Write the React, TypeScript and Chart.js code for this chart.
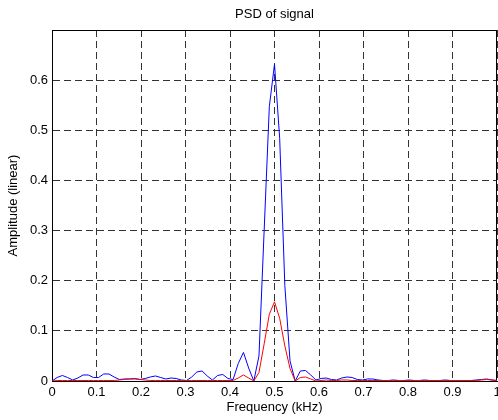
import React, { useEffect, useRef } from 'react';
import { Chart, registerables } from 'chart.js';

Chart.register(...registerables);

// Frequency bins: 87 bins from 0 to 1 kHz (bin width 1/86 kHz)
const binCount = 87;
const binWidthKHz = 1 / 86;

const blueValues = [
  0, 0.007, 0.011, 0.007, 0.002, 0.006, 0.012, 0.012, 0.007, 0.007,
  0.014, 0.014, 0.008, 0.003, 0.004, 0.004, 0.005, 0.003, 0.005, 0.008,
  0.010, 0.007, 0.004, 0.006, 0.005, 0.002, 0.001, 0.008, 0.018, 0.020,
  0.010, 0.002, 0.011, 0.013, 0.005, 0.003, 0.035, 0.057, 0.026, 0.0,
  0.05, 0.30, 0.547, 0.632, 0.484, 0.19, 0.04, 0.0, 0.02, 0.021,
  0.012, 0.002, 0.005, 0.006, 0.003, 0.002, 0.006, 0.008, 0.007, 0.003,
  0.002, 0.004, 0.004, 0.002, 0.001, 0.001, 0.002, 0.001, 0.001, 0.002,
  0.001, 0.001, 0.002, 0.001, 0.001, 0.001, 0.002, 0.001, 0.001, 0.001,
  0.001, 0.001, 0.002, 0.003, 0.004, 0.002, 0.001,
];

const redValues = [
  0, 0.001, 0.001, 0.001, 0.001, 0.001, 0.001, 0.001, 0.001, 0.001,
  0.001, 0.001, 0.001, 0.002, 0.003, 0.004, 0.004, 0.003, 0.002, 0.001,
  0.001, 0.001, 0.001, 0.001, 0.001, 0.001, 0.001, 0.001, 0.001, 0.001,
  0.001, 0.001, 0.001, 0.001, 0.001, 0.001, 0.006, 0.012, 0.006, 0.0,
  0.017, 0.074, 0.133, 0.158, 0.125, 0.07, 0.025, 0.0, 0.007, 0.008,
  0.004, 0.0, 0.001, 0.002, 0.001, 0.001, 0.002, 0.002, 0.001, 0.001,
  0.001, 0.001, 0.001, 0.001, 0.001, 0.001, 0.001, 0.001, 0.001, 0.001,
  0.001, 0.001, 0.001, 0.001, 0.001, 0.001, 0.001, 0.001, 0.001, 0.001,
  0.001, 0.001, 0.001, 0.002, 0.003, 0.002, 0.001,
];

const xMin = 0;
const xMax = 1;
const xStep = 0.1;
const yMin = 0;
const yMax = 0.7;
const yStep = 0.1;

const titleText = 'PSD of signal';
const xTitle = 'Frequency (kHz)';
const yTitle = 'Amplitude (linear)';

const FONT = "'Liberation Sans', Arial, Helvetica, sans-serif";

const fmt = (v: any) => String(Math.round(Number(v) * 10) / 10);

export default function App() {
  const ref = useRef<HTMLCanvasElement>(null);

  useEffect(() => {
    document.body.style.margin = '0';
    const canvas = ref.current;
    if (!canvas) return;
    const freqs = Array.from({ length: binCount }, (_, i) => i * binWidthKHz);

    const boxPlugin = {
      id: 'boxPlugin',
      beforeDatasetsDraw(chart: any) {
        const { ctx, chartArea } = chart;
        ctx.save();
        ctx.strokeStyle = '#000';
        ctx.lineWidth = 1;
        ctx.beginPath();
        ctx.moveTo(Math.round(chartArea.left) + 0.5, Math.round(chartArea.top) + 0.5);
        ctx.lineTo(Math.round(chartArea.right) - 0.5, Math.round(chartArea.top) + 0.5);
        ctx.lineTo(Math.round(chartArea.right) - 0.5, Math.round(chartArea.bottom) + 0.5);
        ctx.stroke();
        ctx.restore();
      },
    };

    const chart = new Chart(canvas, {
      type: 'line',
      data: {
        datasets: [
          {
            label: 'blue',
            data: freqs.map((f, i) => ({ x: f, y: blueValues[i] })),
            borderColor: '#0000ff',
            borderWidth: 1,
            pointRadius: 0,
            tension: 0,
            order: 2,
          },
          {
            label: 'red',
            data: freqs.map((f, i) => ({ x: f, y: redValues[i] })),
            borderColor: '#ff0000',
            borderWidth: 1,
            pointRadius: 0,
            tension: 0,
            order: 1,
          },
        ],
      },
      options: {
        animation: false,
        responsive: false,
        devicePixelRatio: 1,
        layout: { padding: { left: 0, right: 1, top: 0, bottom: 0 } },
        plugins: {
          legend: { display: false },
          tooltip: { enabled: false },
          title: {
            display: true,
            text: titleText,
            fullSize: false,
            color: '#000',
            font: { family: FONT, size: 13, weight: 'normal' },
            padding: { top: 7, bottom: 7.4 },
          },
        },
        scales: {
          x: {
            type: 'linear',
            min: xMin,
            max: xMax,
            ticks: {
              stepSize: xStep,
              color: '#000',
              font: { family: FONT, size: 13 },
              padding: 4,
              maxRotation: 0,
              autoSkip: false,
              callback: fmt,
            },
            grid: { color: '#333', lineWidth: 1, drawTicks: false },
            border: { display: true, color: '#000', width: 1, dash: [7, 4] },
            title: {
              display: true,
              text: xTitle,
              color: '#000',
              font: { family: FONT, size: 13 },
              padding: { top: 0, bottom: 5 },
            },
            afterFit(scale: any) {
              scale.height = 39;
              scale.paddingLeft = 0;
              scale.paddingRight = 0;
            },
          },
          y: {
            type: 'linear',
            min: yMin,
            max: yMax,
            ticks: {
              stepSize: yStep,
              color: '#000',
              font: { family: FONT, size: 13 },
              padding: 4,
              callback: (v: any) => (Number(v) > 0.65 ? '' : fmt(v)),
            },
            grid: { color: '#333', lineWidth: 1, drawTicks: false },
            border: { display: true, color: '#000', width: 1, dash: [7, 4] },
            title: {
              display: true,
              text: yTitle,
              color: '#000',
              font: { family: FONT, size: 13 },
              padding: { top: 6, bottom: 0 },
            },
            afterFit(scale: any) {
              scale.width = 52;
              scale.paddingTop = 0;
              scale.paddingBottom = 0;
            },
          },
        },
      },
      plugins: [boxPlugin],
    } as any);

    return () => chart.destroy();
  }, []);

  return (
    <div style={{ position: 'fixed', left: 0, top: 0, width: 498, height: 420, background: '#fff' }}>
      <canvas ref={ref} width={498} height={420} style={{ display: 'block' }} />
    </div>
  );
}
